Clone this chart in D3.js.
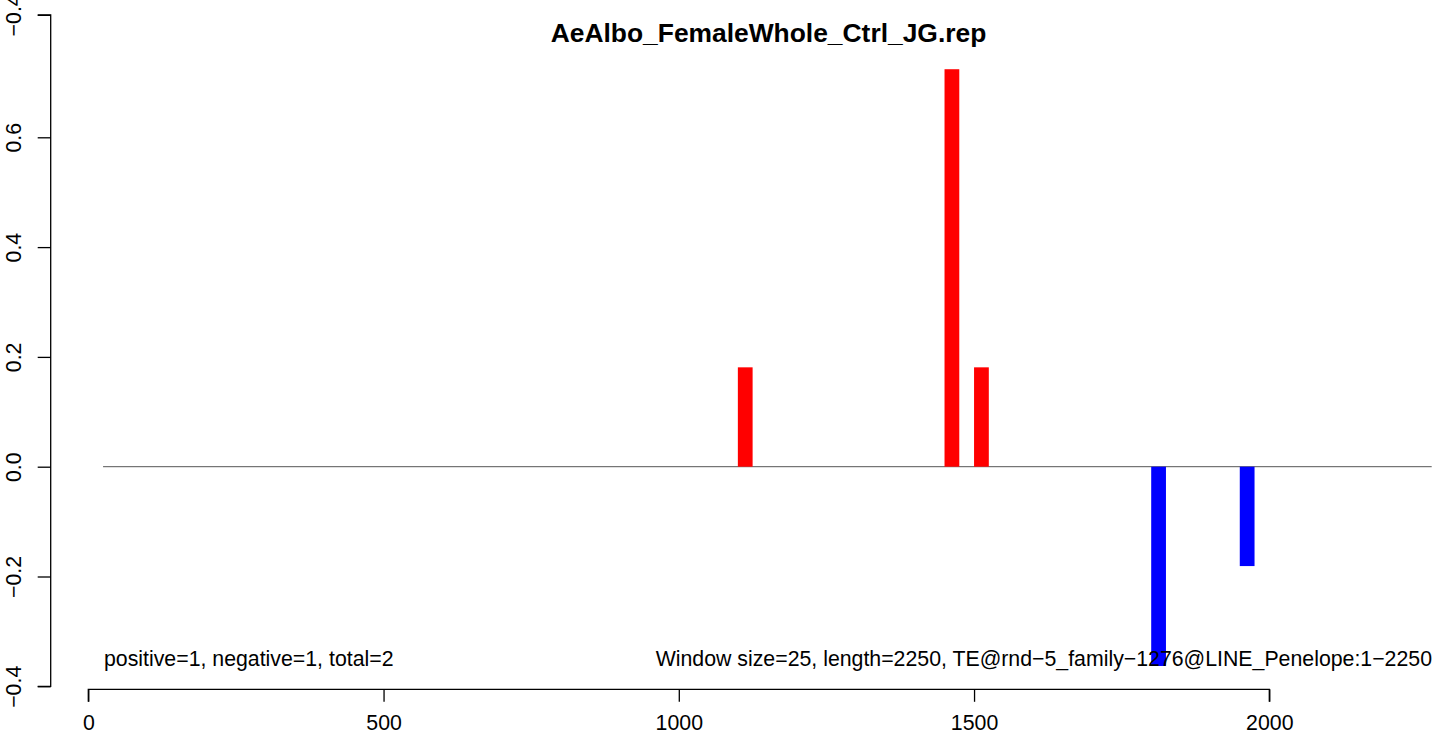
<!DOCTYPE html>
<html><head><meta charset="utf-8">
<script src="https://cdn.jsdelivr.net/npm/d3@7"></script>
<style>body{margin:0;background:#fff}svg{display:block}text{font-family:"Liberation Sans",Arial,Helvetica,sans-serif}</style>
</head><body>
<svg id="c" width="1433" height="735"></svg>
<script>
const title = "AeAlbo_FemaleWhole_Ctrl_JG.rep";
const windowSize = 25;
const seqLength = 2250;
const posStarts = [1100, 1450, 1500];
const posValues = [0.181, 0.724, 0.181];
const negStarts = [1800, 1950];
const negValues = [-0.363, -0.181];
const xTicks = [0, 500, 1000, 1500, 2000];
const yTicks = [-0.4, -0.2, 0.0, 0.2, 0.4, 0.6, 0.823];
const yTickLabels = ["\u22120.4", "\u22120.2", "0.0", "0.2", "0.4", "0.6", "\u22120.4"];
const leftNote = "positive=1, negative=1, total=2";
const rightNote = "Window size=25, length=2250, TE@rnd\u22125_family\u22121276@LINE_Penelope:1\u22122250";

const FS = 21.3;
const svg = d3.select("#c");
const x = d3.scaleLinear().domain([0, 2000]).range([88.3, 1269.3]);
const y = d3.scaleLinear().domain([0, 0.2]).range([466.7, 356.9]);

// zero line
svg.append("line").attr("x1", x(windowSize)).attr("x2", x(seqLength + windowSize))
  .attr("y1", y(0)).attr("y2", y(0)).attr("stroke", "#555").attr("stroke-width", 1);

// bars
const pos = posStarts.map((s, i) => ({s, v: posValues[i]}));
const neg = negStarts.map((s, i) => ({s, v: negValues[i]}));
svg.append("g").selectAll("rect").data(pos).join("rect")
  .attr("x", d => x(d.s)).attr("width", d => x(d.s + windowSize) - x(d.s))
  .attr("y", d => y(d.v)).attr("height", d => y(0) - y(d.v)).attr("fill", "#ff0000");
svg.append("g").selectAll("rect").data(neg).join("rect")
  .attr("x", d => x(d.s)).attr("width", d => x(d.s + windowSize) - x(d.s))
  .attr("y", y(0)).attr("height", d => y(d.v) - y(0)).attr("fill", "#0000ff");

// x axis
const xa = svg.append("g").attr("transform", "translate(0,689.3)")
  .call(d3.axisBottom(x).tickValues(xTicks).tickSize(12.5).tickFormat(d3.format("d")));
xa.select(".domain").attr("d", `M${x(0)},12.5V0H${x(2000)}V12.5`).attr("stroke", "#000").attr("stroke-width", 1.3);
xa.selectAll(".tick line").attr("stroke", "#000").attr("stroke-width", 1.3);
xa.selectAll("text").attr("font-size", FS).attr("fill", "#000")
  .attr("font-family", '"Liberation Sans",Arial,sans-serif')
  .attr("y", 40.5).attr("dy", null);

// y axis
const ya = svg.append("g").attr("transform", "translate(50.7,0)")
  .call(d3.axisLeft(y).tickValues(yTicks).tickSize(13).tickFormat((d, i) => yTickLabels[i]));
ya.select(".domain").attr("d", `M-13,${y(yTicks[0])}H0V${y(yTicks[yTicks.length-1])}H-13`).attr("stroke", "#000").attr("stroke-width", 1.3);
ya.selectAll(".tick line").attr("stroke", "#000").attr("stroke-width", 1.3);
ya.selectAll("text").attr("font-size", FS).attr("fill", "#000")
  .attr("font-family", '"Liberation Sans",Arial,sans-serif')
  .attr("x", null).attr("dy", null)
  .attr("text-anchor", "middle")
  .attr("transform", "translate(-30,0) rotate(-90)");

// title
svg.append("text").attr("x", 768.5).attr("y", 42).attr("text-anchor", "middle")
  .attr("font-weight", "bold").attr("font-size", 26.4).text(title);

// notes
svg.append("text").attr("x", 104).attr("y", 665.5).attr("font-size", FS).text(leftNote);
svg.append("text").attr("x", 1432).attr("y", 665.5).attr("text-anchor", "end").attr("font-size", FS).text(rightNote);
</script>
</body></html>
